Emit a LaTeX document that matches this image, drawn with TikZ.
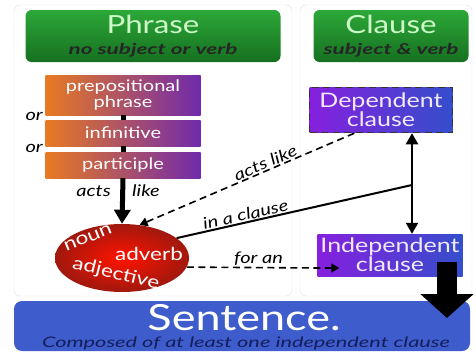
\documentclass[tikz,border=0pt]{standalone}
\usepackage{fontspec}
\setmainfont{Lato}[FakeStretch=1.25]
\newfontfamily\widefont{Lato}[FakeStretch=1.5]
\usetikzlibrary{arrows.meta,shapes.geometric,positioning}

\definecolor{hdrgreen}{RGB}{44,168,56}
\definecolor{hdrdark}{RGB}{22,112,32}
\definecolor{hdrtext}{RGB}{205,250,200}
\definecolor{ornge}{RGB}{232,122,34}
\definecolor{purp}{RGB}{112,42,172}
\definecolor{violet}{RGB}{134,32,222}
\definecolor{blu}{RGB}{52,78,204}
\definecolor{sentblue}{RGB}{62,92,204}
\definecolor{navy}{RGB}{20,30,90}
\definecolor{ballred}{RGB}{214,32,18}

\tikzset{
  header/.style={rounded corners=6pt, top color=hdrgreen, bottom color=hdrdark,
    minimum height=52pt, inner sep=0pt},
  hdrtitle/.style={text=hdrtext, font=\fontsize{25}{25}\selectfont},
  hdrsub/.style={text=black!85, font=\fontsize{15}{15}\widefont\bfseries\itshape},
  typebox/.style={left color=ornge, right color=purp, text=white,
    align=center, inner sep=0pt, font=\fontsize{16}{14}\selectfont},
  clausebox/.style={left color=violet, right color=blu, text=white!90!violet,
    align=center, inner sep=0pt, font=\fontsize{20}{17}\selectfont},
  roletext/.style={text=white, font=\fontsize{18}{18}\selectfont},
  lbl/.style={font=\fontsize{16}{16}\selectfont\itshape, inner sep=1pt},
  longdash/.style={dash pattern=on 7pt off 4.5pt}
}

\begin{document}
\begin{tikzpicture}[x=1pt,y=-1pt]
  \useasboundingbox (0,0) rectangle (476,359);

  % panels
  \draw[black!12, rounded corners=6pt] (14,5) rectangle (292,296);
  \draw[black!12, rounded corners=6pt] (300,5) rectangle (472,296);

  % headers
  \node[header, minimum width=255pt] (phrase) at (153,36) {};
  \node[hdrtitle] at (153,24) {Phrase};
  \node[hdrsub] at (153,50) {no subject or verb};
  \node[header, minimum width=155pt] (clause) at (391,36) {};
  \node[hdrtitle] at (391,24) {Clause};
  \node[hdrsub] at (391,50) {subject \& verb};

  % phrase types
  \node[typebox, minimum width=155pt, minimum height=40pt] (prep) at (123,95) {prepositional\\phrase};
  \node[typebox, minimum width=155pt, minimum height=26pt] (inf) at (123,133) {infinitive};
  \node[typebox, minimum width=155pt, minimum height=26pt] (part) at (123,165) {participle};
  \draw[line width=5pt] (prep.south) -- (inf.north);
  \draw[line width=5pt] (inf.south) -- (part.north);
  \node[lbl, anchor=east] at (44,116) {or};
  \node[lbl, anchor=east] at (44,148) {or};

  % the three roles
  \node[ellipse, inner color=red!85!orange, outer color=ballred!75!black, minimum width=134pt, minimum height=68pt] (roles) at (122,258) {};
  \node[roletext, rotate=22] at (88,238) {noun};
  \node[roletext] at (149,254) {adverb};
  \node[roletext, rotate=-14] at (116,274) {adjective};

  \draw[line width=5pt, -{Triangle[width=16pt,length=14pt]}] (part.south) -- (roles.north);
  \node[lbl, anchor=east] at (112,191) {acts};
  \node[lbl, anchor=west] at (131,191) {like};

  % clauses
  \node[clausebox, draw=black!80, longdash, line width=1.5pt, minimum width=143pt, minimum height=45pt] (dep) at (381,110) {Dependent\\clause};
  \node[clausebox, minimum width=145pt, minimum height=42pt] (indep) at (390,255) {Independent\\clause};
  \draw[line width=2.2pt, {Triangle[width=12pt,length=11pt]}-{Triangle[width=12pt,length=11pt]}] (dep.south -| 412,0) -- (indep.north -| 412,0);
  \coordinate (join) at (412,185);

  % connectors
  \draw[line width=2pt] (roles.20) -- node[lbl, sloped, above, pos=0.3] {in a clause} (join);
  \draw[line width=1.6pt, longdash, -{Triangle[width=9pt,length=8pt]}] (dep.-139) -- node[lbl, sloped, above, pos=0.4] {acts like} (roles.62);
  \draw[line width=1.6pt, longdash, -{Triangle[width=9pt,length=8pt]}] (roles.-8) -- node[lbl, above, pos=0.55] {for an} (indep.west |- 0,268) -- ++(22,0);

  % sentence
  \node[rounded corners=8pt, fill=sentblue, minimum width=456pt, minimum height=50pt] (sent) at (242,326) {};
  \node[text=white, font=\fontsize{36}{36}\selectfont] at (244,318) {Sentence.};
  \node[text=navy, font=\fontsize{14.5}{15}\widefont\itshape] at (246,343) {Composed of at least one independent clause};
  \draw[line width=20pt, -{Triangle[width=52pt,length=24pt]}] (447,262) -- (447,318);

\end{tikzpicture}
\end{document}
